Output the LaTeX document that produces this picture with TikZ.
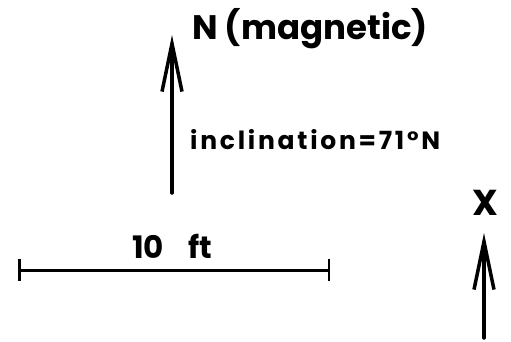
\documentclass[tikz,border=0pt]{standalone}
\usepackage{fontspec}
\setmainfont{Poppins}
\usepackage{tikz}
\usetikzlibrary{positioning, arrows.meta}

\tikzset{
  pen/.style={line width=3.5pt, line cap=round},
  barbtip/.style={-{Straight Barb[length=48pt,width=20pt,line width=3.5pt]}},
  label/.style={inner sep=0pt, font=\bfseries}
}

\begin{document}
\begin{tikzpicture}[x=1pt, y=-1pt]
  \useasboundingbox (0,0) rectangle (511,341);
  % north arrow
  \coordinate (nfoot) at (172,193);
  \coordinate (ntip) at (172,35);
  \draw[pen, barbtip] (nfoot) -- (ntip);
  \node[label, anchor=base west, font=\bfseries\fontsize{34}{34}\selectfont] (ntext) at (192,39) {N (magnetic)};
  \node[label, anchor=base west, font=\bfseries\fontsize{25}{25}\selectfont\addfontfeature{LetterSpace=11}] (incl) at (190,149) {inclination=71°N};
  % scale bar
  \coordinate (sleft) at (18,270);
  \coordinate (sright) at (330,270);
  \draw[line width=3pt, {Bar[width=22pt,line width=2.5pt]}-{Bar[width=22pt,line width=2.5pt]}] (sleft) -- (sright);
  \node[label, anchor=base, font=\bfseries\fontsize{31}{31}\selectfont] (scale) at (172,258) {10\hspace{24pt}ft};
  % point X
  \node[label, anchor=base, font=\bfseries\fontsize{36}{36}\selectfont] (xmark) at (485,215) {X};
  \coordinate (xfoot) at (484,338);
  \coordinate (xtip) at (484,233);
  \draw[pen, barbtip] (xfoot) -- (xtip);
\end{tikzpicture}
\end{document}
